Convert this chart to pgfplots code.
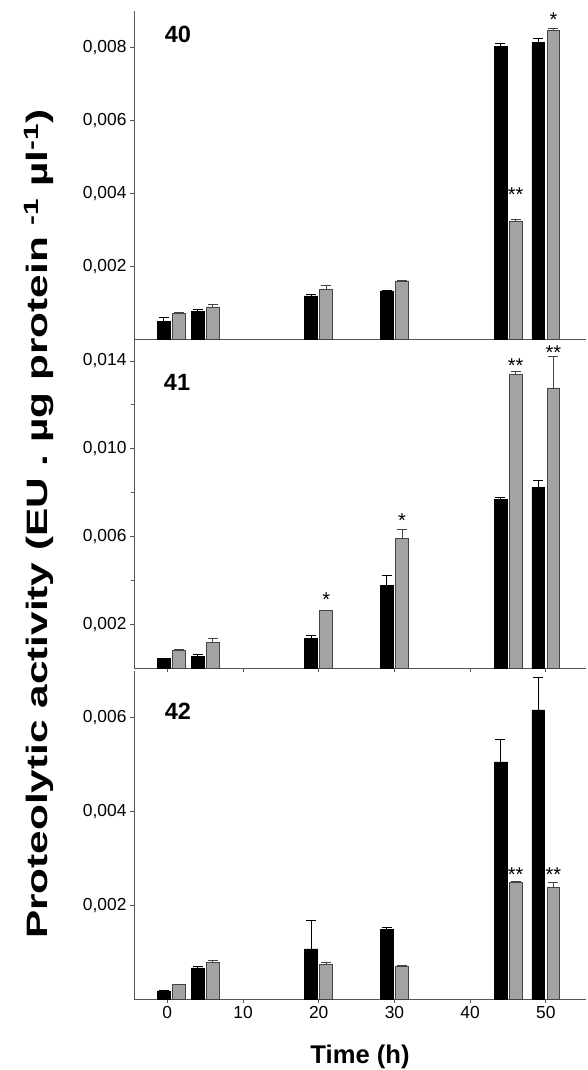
\documentclass[border=0pt]{standalone}
\usepackage{fontspec}
\setmainfont{Liberation Sans}
\usepackage{graphicx}
\usepackage{pgfplots}
\pgfplotsset{compat=1.18}
\definecolor{bargray}{HTML}{A3A3A3}
\definecolor{axisgray}{HTML}{555555}
\definecolor{edgegray}{HTML}{444444}
\pgfplotsset{
  panel/.style={
    scale only axis, width=452pt, xmin=-4.4, xmax=55.3, ymin=0,
    clip=false,
    axis x line*=bottom, axis y line*=left,
    axis line style={draw=axisgray, line width=0.9pt, -},
    tick style={draw=axisgray, line width=0.8pt},
    tick align=outside, major tick length=4pt, minor tick length=3pt,
    scaled y ticks=false,
    /pgf/number format/assume math mode=true,
    ticklabel style={font=\fontsize{17.4}{20}\selectfont},
    yticklabel style={/pgf/number format/fixed, /pgf/number format/fixed zerofill,
      /pgf/number format/precision=3, /pgf/number format/use comma},
  },
  blackbar/.style={ybar, bar width=1.7, bar shift=0pt, fill=black, draw=black, line width=0.6pt,
    error bars/.cd, y dir=plus, y explicit,
    error mark options={rotate=90, mark size=5pt, draw=black, line width=0.8pt},
    error bar style={draw=black, line width=0.8pt}},
  graybar/.style={ybar, bar width=1.7, bar shift=0pt, fill=bargray, draw=edgegray, line width=0.8pt,
    error bars/.cd, y dir=plus, y explicit,
    error mark options={rotate=90, mark size=5pt, draw=edgegray, line width=0.8pt},
    error bar style={draw=edgegray, line width=0.8pt}},
}
\newcommand{\plab}{\fontsize{23.5}{26}\selectfont\bfseries}
\newcommand{\astf}{\fontsize{20}{24}\selectfont}
\begin{document}
\begin{tikzpicture}
\path[use as bounding box] (0,0) rectangle (587pt,1070pt);
% Panel 40
\begin{axis}[panel, at={(134pt,731pt)}, anchor=south west, height=328pt,
  ymax=0.009, ytick={0.002,0.004,0.006,0.008}, xtick=\empty]
\addplot[blackbar] coordinates {
  (-0.5,0.000475) +- (0,0.00012)
  (4,0.000749) +- (0,0.000055)
  (19,0.00118) +- (0,0.00003)
  (29,0.00132) +- (0,0.000005)
  (44,0.00803) +- (0,0.00008)
  (49,0.00813) +- (0,0.00011)};
\addplot[graybar] coordinates {
  (1.5,0.000713) +- (0,0.00001)
  (6,0.000878) +- (0,0.00007)
  (21,0.00136) +- (0,0.00011)
  (31,0.00157) +- (0,0.00004)
  (46,0.00324) +- (0,0.00003)
  (51,0.00847) +- (0,0.00006)};
\node[font=\plab] at (axis cs:1.41,0.00837) {40};
\node[font=\astf, yshift=-4pt] at (axis cs:46,0.00407) {**};
\node[font=\astf, yshift=-4pt] at (axis cs:51,0.00886) {*};
\end{axis}
% Panel 41
\begin{axis}[panel, at={(134pt,402pt)}, anchor=south west, height=329pt,
  ymax=0.015, ytick={0.002,0.006,0.010,0.014}, minor ytick={0.004,0.008,0.012},
  xtick={0,10,20,30,40,50}, xticklabels={},
  ylabel={\scalebox{1.435}[1]{Proteolytic activity (EU . µg protein \textsuperscript{-1} µl\textsuperscript{-1})}},
  ylabel style={font=\fontsize{29.5}{34}\selectfont\bfseries, at={(axis description cs:-0.2102,0.4377)}, anchor=center}]
\addplot[blackbar] coordinates {
  (-0.5,0.000425) +- (0,0.00002)
  (4,0.000517) +- (0,0.00009)
  (19,0.00134) +- (0,0.00016)
  (29,0.00377) +- (0,0.00043)
  (44,0.00769) +- (0,0.0001)
  (49,0.00822) +- (0,0.00035)};
\addplot[graybar] coordinates {
  (1.5,0.00082) +- (0,0.00003)
  (6,0.00115) +- (0,0.0002)
  (21,0.00261) +- (0,0.00003)
  (31,0.00590) +- (0,0.00041)
  (46,0.01340) +- (0,0.00011)
  (51,0.01277) +- (0,0.00143)};
\node[font=\plab] at (axis cs:1.28,0.01301) {41};
\node[font=\astf, yshift=-4pt] at (axis cs:21,0.00330) {*};
\node[font=\astf, yshift=-4pt] at (axis cs:31,0.00690) {*};
\node[font=\astf, yshift=-4pt] at (axis cs:46,0.01396) {**};
\node[font=\astf, yshift=-4pt] at (axis cs:51,0.01456) {**};
\end{axis}
% Panel 42
\begin{axis}[panel, at={(134pt,71pt)}, anchor=south west, height=328pt,
  ymax=0.007, ytick={0.002,0.004,0.006},
  xtick={0,10,20,30,40,50},
  xlabel={Time (h)},
  xlabel style={font=\fontsize{25.6}{30}\selectfont\bfseries, at={(axis description cs:0.5,-0.175)}, anchor=center}]
\addplot[blackbar] coordinates {
  (-0.5,0.000171) +- (0,0.00001)
  (4,0.000662) +- (0,0.00004)
  (19,0.00107) +- (0,0.0006)
  (29,0.00149) +- (0,0.00004)
  (44,0.00506) +- (0,0.00048)
  (49,0.00617) +- (0,0.0007)};
\addplot[graybar] coordinates {
  (1.5,0.000305) +- (0,0.00001)
  (6,0.000775) +- (0,0.000057)
  (21,0.00074) +- (0,0.00005)
  (31,0.000698) +- (0,0.00001)
  (46,0.00249) +- (0,0.00001)
  (51,0.00239) +- (0,0.00009)};
\node[font=\plab] at (axis cs:1.41,0.00613) {42};
\node[font=\astf, yshift=-4pt] at (axis cs:46,0.00273) {**};
\node[font=\astf, yshift=-4pt] at (axis cs:51,0.00273) {**};
\end{axis}
\end{tikzpicture}
\end{document}
